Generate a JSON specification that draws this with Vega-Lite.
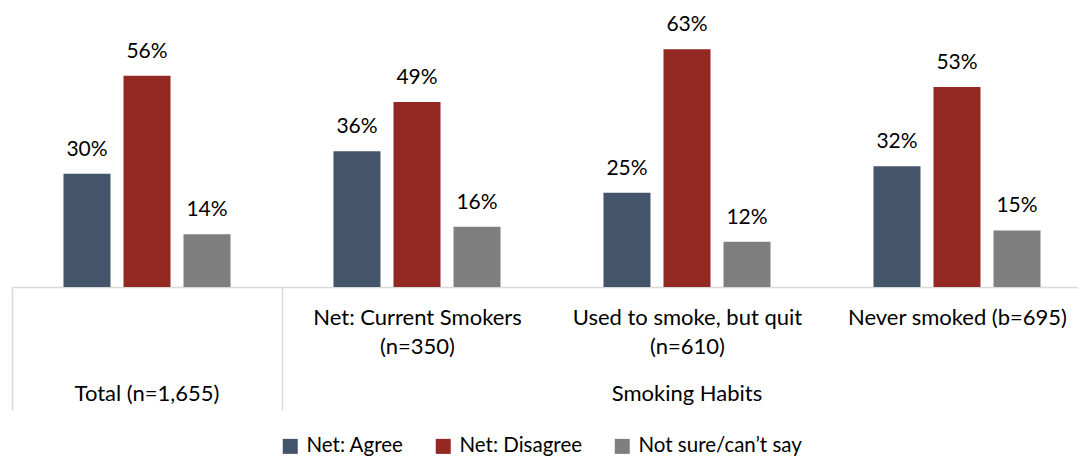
{
  "$schema": "https://vega.github.io/schema/vega-lite/v6.json",
  "width": 1080,
  "height": 283,
  "padding": {"left": 11, "top": 4, "right": 0, "bottom": 0},
  "background": "white",
  "config": {"view": {"stroke": null}, "font": "Lato"},
  "data": {
    "values": [
      {"group": "Total", "series": "Net: Agree", "value": 0.30},
      {"group": "Total", "series": "Net: Disagree", "value": 0.56},
      {"group": "Total", "series": "Not sure/can’t say", "value": 0.14},
      {"group": "Current", "series": "Net: Agree", "value": 0.36},
      {"group": "Current", "series": "Net: Disagree", "value": 0.49},
      {"group": "Current", "series": "Not sure/can’t say", "value": 0.16},
      {"group": "Quit", "series": "Net: Agree", "value": 0.25},
      {"group": "Quit", "series": "Net: Disagree", "value": 0.63},
      {"group": "Quit", "series": "Not sure/can’t say", "value": 0.12},
      {"group": "Never", "series": "Net: Agree", "value": 0.32},
      {"group": "Never", "series": "Net: Disagree", "value": 0.53},
      {"group": "Never", "series": "Not sure/can’t say", "value": 0.15}
    ]
  },
  "layer": [
    {
      "mark": {"type": "bar"},
      "encoding": {
        "x": {
          "field": "group", "type": "nominal", "sort": ["Total", "Current", "Quit", "Never"],
          "scale": {"paddingInner": 0.3333, "paddingOuter": 0.1667},
          "axis": {
            "orient": "bottom", "title": null, "labelAngle": 0, "labelFontSize": 22, "labelColor": "#000000",
            "labelBaseline": "top", "labelPadding": -103, "labelLineHeight": 29, "labelOverlap": false, "labelLimit": 0,
            "labelExpr": "datum.value == 'Current' ? ['Net: Current Smokers', '(n=350)'] : datum.value == 'Quit' ? ['Used to smoke, but quit', '(n=610)'] : datum.value == 'Never' ? 'Never smoked (b=695)' : ''",
            "domainColor": "#d9d9d9", "domainWidth": 1.5,
            "tickOffset": -135, "labelOffset": 135, "tickSize": 123, "tickColor": "#d9d9d9", "tickWidth": 1.5,
            "tickOpacity": {"condition": {"test": "datum.value == 'Total' || datum.value == 'Current'", "value": 1}, "value": 0}
          }
        },
        "xOffset": {
          "field": "series", "type": "nominal", "sort": ["Net: Agree", "Net: Disagree", "Not sure/can’t say"],
          "scale": {"paddingInner": 0.2167, "paddingOuter": 0.108}
        },
        "y": {"field": "value", "type": "quantitative", "scale": {"domain": [0, 0.75], "nice": false}, "axis": null},
        "color": {
          "field": "series", "type": "nominal",
          "scale": {"domain": ["Net: Agree", "Net: Disagree", "Not sure/can’t say"], "range": ["#44546A", "#942924", "#7F7F7F"]},
          "legend": {
            "orient": "none", "legendX": 268, "legendY": 432, "direction": "horizontal", "title": null,
            "symbolType": "square", "symbolSize": 225, "labelFontSize": 20.5, "labelColor": "#000000", "labelLimit": 0,
            "columnPadding": 29, "labelOffset": 6
          }
        }
      }
    },
    {
      "mark": {"type": "text", "baseline": "alphabetic", "dy": -18, "fontSize": 21, "color": "#000000"},
      "encoding": {
        "x": {
          "field": "group", "type": "nominal", "sort": ["Total", "Current", "Quit", "Never"],
          "axis": {
            "orient": "bottom", "title": null, "labelAngle": 0, "labelFontSize": 22, "labelColor": "#000000",
            "labelBaseline": "top", "labelPadding": 96, "labelOverlap": false, "labelLimit": 0, "ticks": false, "domain": false,
            "labelExpr": "datum.value == 'Total' ? 'Total (n=1,655)' : datum.value == 'Quit' ? 'Smoking Habits' : ''"
          }
        },
        "xOffset": {"field": "series", "type": "nominal", "sort": ["Net: Agree", "Net: Disagree", "Not sure/can’t say"]},
        "y": {"field": "value", "type": "quantitative"},
        "text": {"field": "value", "type": "quantitative", "format": ".0%"}
      }
    }
  ],
  "resolve": {"axis": {"x": "independent"}}
}
